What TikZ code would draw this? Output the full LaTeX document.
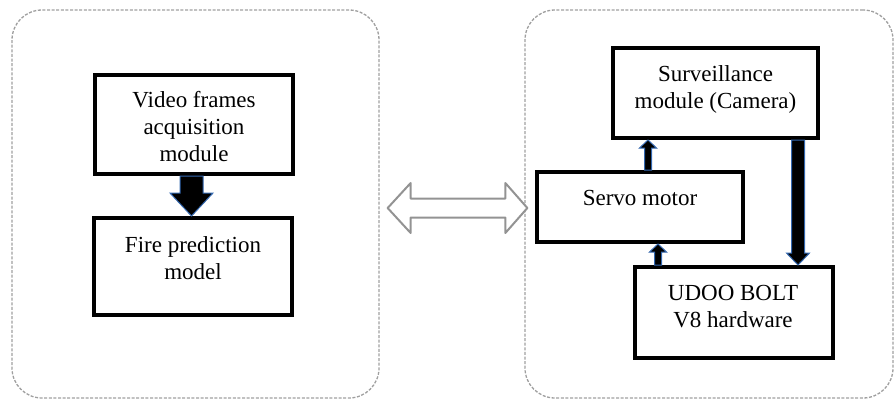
\documentclass[tikz,border=0pt]{standalone}
\usepackage{fontspec}
\setmainfont{Liberation Serif}
\usetikzlibrary{calc}

\definecolor{arredge}{RGB}{52,104,176}

% vertical block arrow: #1 from, #2 to, #3 x position (pt),
% #4 shaft half width, #5 head half width, #6 head length
\newcommand\blockarrow[6]{%
  \draw[blockarr] let \p1=(#1), \p2=(#2), \n1={sign(\y2-\y1)} in
    ({#3pt-#4pt},\y1) -- ({#3pt-#4pt},{\y2-\n1*#6pt})
    -- ({#3pt-#5pt},{\y2-\n1*#6pt}) -- (#3pt,\y2)
    -- ({#3pt+#5pt},{\y2-\n1*#6pt}) -- ({#3pt+#4pt},{\y2-\n1*#6pt})
    -- ({#3pt+#4pt},\y1) -- cycle;}

\begin{document}
\begin{tikzpicture}[x=1pt,y=-1pt,
  frame/.style={draw=gray!75,line width=1.3pt,dash pattern=on 3pt off 1.6pt,
    rounded corners=30pt,minimum width=#1,minimum height=388pt,inner sep=0pt},
  box/.style={draw=black,line width=4pt,inner sep=0pt},
  txt/.style={font=\fontsize{23}{27}\selectfont,align=center,inner sep=0pt},
  blockarr/.style={fill=black,draw=arredge,line width=1pt,line join=miter},
  bothway/.style={fill=white,draw=gray!85,line width=2pt,line join=round}]

\useasboundingbox (0,0) rectangle (896,405);

% the two dashed groups
\node[frame=367pt] (lgrp) at (195.5,204) {};
\node[frame=368pt] (rgrp) at (709,204) {};

% left group: acquisition and prediction
\node[box,minimum width=198pt,minimum height=99pt] (acq) at (194,124.5) {};
\node[txt] (acqt) at (194,127) {Video frames\\acquisition\\module};
\node[box,minimum width=198pt,minimum height=97pt] (pred) at (193,266.5) {};
\node[txt] (predt) at (193,258) {Fire prediction\\model};

\blockarrow{acq.south}{pred.north}{191.5}{11.5}{21.5}{23}

% right group: camera, servo and board
\node[box,minimum width=205pt,minimum height=90pt] (cam) at (715.5,93) {};
\node[txt] (camt) at (715.5,89) {Surveillance\\module (Camera)};
\node[box,minimum width=206pt,minimum height=70pt] (servo) at (640,207) {};
\node[txt] (servot) at (640,198) {Servo motor};
\node[box,minimum width=198pt,minimum height=91pt] (udoo) at (734,312.5) {};
\node[txt] (udoot) at (733,307) {UDOO BOLT\\V8 hardware};

\blockarrow{servo.north}{cam.south}{648}{3.5}{8.5}{8}
\blockarrow{udoo.north}{servo.south}{658}{3.5}{8.5}{8}
\blockarrow{cam.south}{udoo.north}{798}{6.5}{11.5}{12}

% two-way arrow between the groups
\coordinate (lt) at ($(lgrp.east)+(8,4)$);
\coordinate (rt) at ($(rgrp.west)+(3,4)$);
\draw[bothway] (lt) -- ($(lt)+(23,-25)$) -- ($(lt)+(23,-9.5)$)
  -- ($(rt)+(-22,-9.5)$) -- ($(rt)+(-22,-25)$) -- (rt)
  -- ($(rt)+(-22,25)$) -- ($(rt)+(-22,9.5)$)
  -- ($(lt)+(23,9.5)$) -- ($(lt)+(23,25)$) -- cycle;
\end{tikzpicture}
\end{document}
